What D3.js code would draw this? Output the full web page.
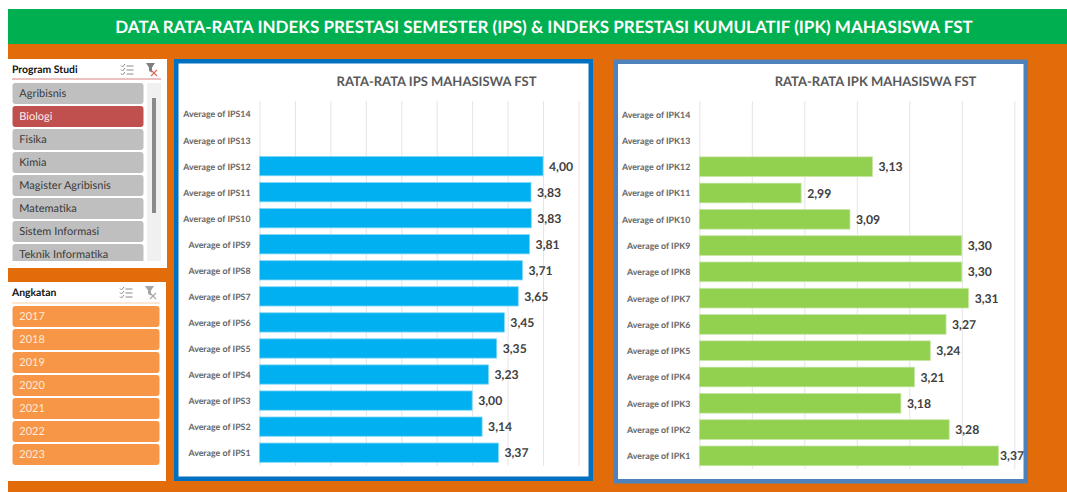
<!DOCTYPE html>
<html>
  <head>
    <title>Data Rata-rata IPS dan IPK Mahasiswa FST</title>
    <style>
      html, body { margin: 0; padding: 0; background: #fff; }
      svg { display: block; }
      text { font-family: 'Lato', 'Open Sans', sans-serif; text-rendering: geometricPrecision; }
      .grid line { stroke: #e4e4e4; stroke-width: 1; }
      .axis path, .axis line { display: none; }
      .axis text { font-size: 8.8px; font-weight: 700; fill: #666; font-family: 'Lato', sans-serif; }
      .chart-title { font-size: 13px; font-weight: 700; fill: #595959; }
      .value { font-size: 12.2px; font-weight: 700; fill: #404040; }
      .slicer-title { font-size: 10.4px; font-weight: 700; fill: #111; }
      .slicer-item { font-size: 11px; }
    </style>
  </head>
  <body>
    <div class="chart"></div>
    <script src="https://d3js.org/d3.v7.min.js"></script>
    <script>
      var pageTitle = 'DATA RATA-RATA INDEKS PRESTASI SEMESTER (IPS) & INDEKS PRESTASI KUMULATIF (IPK) MAHASISWA FST';

      // slicers
      var programStudi = ['Agribisnis', 'Biologi', 'Fisika', 'Kimia', 'Magister Agribisnis', 'Matematika', 'Sistem Informasi', 'Teknik Informatika'];
      var programSelected = ['Biologi'];
      var angkatan = ['2017', '2018', '2019', '2020', '2021', '2022', '2023'];

      // charts, top row first. IPS14, IPS13, IPK14, IPK13 have no value
      var ipsLabels = ['Average of IPS14', 'Average of IPS13', 'Average of IPS12', 'Average of IPS11', 'Average of IPS10', 'Average of IPS9', 'Average of IPS8', 'Average of IPS7', 'Average of IPS6', 'Average of IPS5', 'Average of IPS4', 'Average of IPS3', 'Average of IPS2', 'Average of IPS1'];
      var ipsValues = [null, null, 4.00, 3.83, 3.834, 3.81, 3.71, 3.65, 3.454, 3.346, 3.23, 3.00, 3.14, 3.37];
      var ipkLabels = ['Average of IPK14', 'Average of IPK13', 'Average of IPK12', 'Average of IPK11', 'Average of IPK10', 'Average of IPK9', 'Average of IPK8', 'Average of IPK7', 'Average of IPK6', 'Average of IPK5', 'Average of IPK4', 'Average of IPK3', 'Average of IPK2', 'Average of IPK1'];
      var ipkValues = [null, null, 3.13, 2.994, 3.087, 3.30, 3.30, 3.313, 3.27, 3.24, 3.21, 3.184, 3.276, 3.37];

      var ipsTicks = [0, 0.5, 1, 1.5, 2, 2.5, 3, 3.5, 4, 4.5];
      var ipkTicks = [2.8, 2.9, 3, 3.1, 3.2, 3.3, 3.4];

      var comma = d3.formatLocale({ decimal: ',', thousands: '.', grouping: [3], currency: ['', ''] }).format('.2f');

      var svg = d3.select('.chart').append('svg')
        .attr('width', 1067)
        .attr('height', 492);

      // background and header band
      svg.append('rect').attr('x', 8).attr('y', 44).attr('width', 1059).attr('height', 448).attr('fill', '#E36C0A');
      svg.append('rect').attr('x', 8).attr('y', 9).attr('width', 1059).attr('height', 35).attr('fill', '#00B050');
      svg.append('text')
        .attr('x', 544)
        .attr('y', 33)
        .attr('text-anchor', 'middle')
        .attr('fill', '#fff')
        .style('font-size', '17px')
        .style('font-weight', 700)
        .text(pageTitle);

      function drawSlicer(opt) {
        var g = svg.append('g');
        g.append('rect')
          .attr('x', opt.x).attr('y', opt.y)
          .attr('width', opt.width).attr('height', opt.height)
          .attr('fill', '#fff');
        g.append('text')
          .attr('class', 'slicer-title')
          .attr('x', 12).attr('y', opt.y + 14)
          .text(opt.title);
        g.append('line')
          .attr('x1', 12).attr('x2', opt.lineEnd)
          .attr('y1', opt.y + opt.lineY).attr('y2', opt.y + opt.lineY)
          .attr('stroke', opt.lineColor)
          .attr('stroke-width', 1);

        // multi select icon
        var icon = g.append('g')
          .attr('transform', 'translate(' + opt.iconX + ',' + (opt.y + 5) + ')')
          .attr('fill', 'none')
          .attr('stroke', '#8a8a8a')
          .attr('stroke-width', 1);
        [1.5, 5.5, 9.5].forEach(function(yy) {
          icon.append('path').attr('d', 'M0 ' + yy + 'l1.5 1.5l2.5 -3');
          icon.append('path').attr('d', 'M5.5 ' + (yy + 0.5) + 'h7');
        });

        // clear filter icon
        var clear = g.append('g').attr('transform', 'translate(' + (opt.iconX + 25) + ',' + (opt.y + 4) + ')');
        clear.append('path').attr('d', 'M0 0h9l-3 4.5v5l-3 -1.5v-3.5z').attr('fill', opt.funnelColor);
        clear.append('path')
          .attr('d', 'M5 7l6 6M11 7l-6 6')
          .attr('stroke', opt.crossColor)
          .attr('stroke-width', 1.1);

        // list is clipped at the bottom of the slicer, like the last entry of Program Studi
        var clipId = 'clip-' + opt.title.replace(/\s/g, '');
        g.append('clipPath').attr('id', clipId).append('rect')
          .attr('x', opt.x).attr('y', opt.y)
          .attr('width', opt.width).attr('height', opt.clipHeight);

        var rows = g.append('g').attr('clip-path', 'url(#' + clipId + ')')
          .selectAll('g')
          .data(opt.items)
          .enter()
          .append('g')
          .attr('transform', function(d, i) { return 'translate(12.5,' + (opt.listY + i * 23) + ')'; });

        rows.append('rect')
          .attr('width', opt.itemWidth)
          .attr('height', 21)
          .attr('rx', 3)
          .attr('fill', opt.fill);

        rows.append('text')
          .attr('class', 'slicer-item')
          .attr('x', 6.8)
          .attr('y', 14.4)
          .attr('fill', opt.textColor)
          .text(function(d) { return d; });

        return g;
      }

      var slicer1 = drawSlicer({
        title: 'Program Studi', items: programStudi,
        x: 8, y: 59, width: 159, height: 209, clipHeight: 202,
        lineY: 20, lineEnd: 161, lineColor: '#D9827E',
        iconX: 121, funnelColor: '#7f7f7f', crossColor: '#E0645C',
        listY: 83, itemWidth: 131,
        fill: function(d) { return programSelected.indexOf(d) >= 0 ? '#C0504D' : '#BFBFBF'; },
        textColor: function(d) { return programSelected.indexOf(d) >= 0 ? '#fbeeee' : '#3a3a3a'; }
      });
      // scrollbar
      slicer1.append('rect').attr('x', 147).attr('y', 83).attr('width', 14).attr('height', 178).attr('fill', '#F0F0F0');
      slicer1.append('rect').attr('x', 152).attr('y', 98).attr('width', 4).attr('height', 115).attr('fill', '#8a8a8a');

      drawSlicer({
        title: 'Angkatan', items: angkatan,
        x: 8, y: 282, width: 158, height: 199, clipHeight: 199,
        lineY: 21, lineEnd: 160, lineColor: '#F9CFA6',
        iconX: 120, funnelColor: '#a6a6a6', crossColor: '#a6a6a6',
        listY: 306, itemWidth: 147,
        fill: '#F79646',
        textColor: '#FDE9D9'
      });

      function drawChart(opt) {
        var g = svg.append('g');
        g.append('rect')
          .attr('x', opt.left + 2.25).attr('y', opt.top + 2.25)
          .attr('width', opt.right - opt.left - 4.5).attr('height', opt.bottom - opt.top - 4.5)
          .attr('fill', '#fff')
          .attr('stroke', opt.border)
          .attr('stroke-width', 4.5);

        g.append('text')
          .attr('class', 'chart-title')
          .attr('x', opt.titleX).attr('y', 86)
          .attr('text-anchor', 'middle')
          .text(opt.title);

        var x = d3.scaleLinear().domain(opt.domain).range(opt.xRange);
        var y = d3.scaleBand().domain(opt.labels).range(opt.yRange).paddingInner(opt.padding).paddingOuter(opt.padding / 2);

        g.append('g').attr('class', 'grid')
          .selectAll('line')
          .data(opt.ticks)
          .enter()
          .append('line')
          .attr('x1', function(d) { return x(d) + 0.5; })
          .attr('x2', function(d) { return x(d) + 0.5; })
          .attr('y1', opt.yRange[0])
          .attr('y2', opt.yRange[1]);

        g.append('g').attr('class', 'axis')
          .attr('transform', 'translate(' + opt.xRange[0] + ',0.6)')
          .call(d3.axisLeft(y).tickSize(0).tickPadding(9));

        var rows = opt.labels.map(function(label, i) { return { label: label, value: opt.values[i] }; })
          .filter(function(d) { return d.value !== null; });

        g.selectAll('.bar')
          .data(rows)
          .enter()
          .append('rect')
          .attr('class', 'bar')
          .attr('x', x(opt.domain[0]))
          .attr('y', function(d) { return y(d.label); })
          .attr('width', function(d) { return x(d.value) - x(opt.domain[0]); })
          .attr('height', y.bandwidth())
          .attr('fill', opt.color)
          .attr('stroke', opt.edge)
          .attr('stroke-width', 0.8);

        g.selectAll('.value')
          .data(rows)
          .enter()
          .append('text')
          .attr('class', 'value')
          .attr('x', function(d) { return x(d.value) + opt.labelGap(d); })
          .attr('y', function(d) { return y(d.label) + y.bandwidth() / 2 + 4.6; })
          .text(function(d) { return comma(d.value); });
      }

      drawChart({
        title: 'RATA-RATA IPS MAHASISWA FST', titleX: 436.5,
        left: 174, right: 593, top: 59, bottom: 481, border: '#0070C0',
        labels: ipsLabels, values: ipsValues, domain: [0, 4.5], ticks: ipsTicks,
        xRange: [259.5, 578.5], yRange: [101, 465.7], padding: 0.26,
        color: '#00B0F0', edge: '#7FD7F7',
        labelGap: function() { return 6; }
      });

      drawChart({
        title: 'RATA-RATA IPK MAHASISWA FST', titleX: 875.5,
        left: 613.5, right: 1028, top: 59.5, bottom: 483.5, border: '#4F81BD',
        labels: ipkLabels, values: ipkValues, domain: [2.8, 3.4], ticks: ipkTicks,
        xRange: [699.3, 1014.3], yRange: [101, 469], padding: 0.25,
        color: '#92D050', edge: '#C8E7A7',
        labelGap: function(d) { return d.value > 3.35 ? 1.5 : 6; }
      });
    </script>
  </body>
</html>
